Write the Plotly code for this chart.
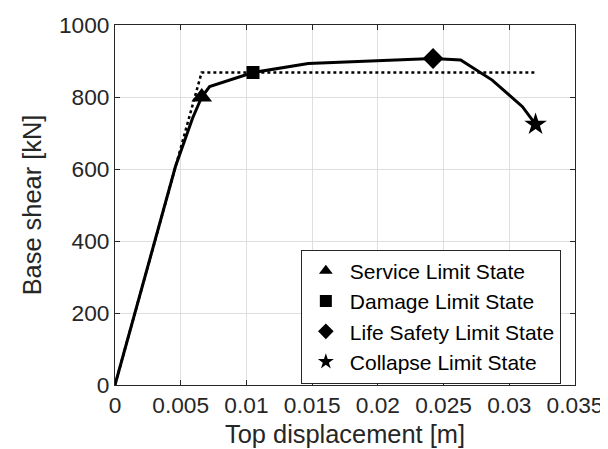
import plotly.graph_objects as go

# Pushover curve
disp = [0.0, 0.0046, 0.0059, 0.0066, 0.0072, 0.0105, 0.0147, 0.0185, 0.0242, 0.0263, 0.0287, 0.0310, 0.0320]
shear = [0, 607, 741, 800, 829, 868, 893, 898, 907, 903, 847, 773, 724]

# Bilinear idealisation
bi_disp = [0.0, 0.00659, 0.0320]
bi_shear = [0, 868, 868]

# Limit states
ls_names = ["Service Limit State", "Damage Limit State", "Life Safety Limit State", "Collapse Limit State"]
ls_disp = [0.0066, 0.0105, 0.0242, 0.0320]
ls_shear = [800, 868, 907, 724]
ls_symbols = ["triangle-up", "square", "diamond", "star"]
ls_sizes = [18, 13, 16, 17]

x_ticks = [0, 0.005, 0.01, 0.015, 0.02, 0.025, 0.03, 0.035]
x_ticktext = ["0", "0.005", "0.01", "0.015", "0.02", "0.025", "0.03", "0.035"]
y_ticks = [0, 200, 400, 600, 800, 1000]
y_ticktext = ["0", "200", "400", "600", "800", "1000"]

FONT = "Liberation Sans, Arial, sans-serif"
TXT = "#262626"

fig = go.Figure()
fig.add_trace(go.Scatter(x=bi_disp, y=bi_shear, mode="lines",
                         line=dict(color="black", width=2.5, dash="dot"),
                         showlegend=False, hoverinfo="skip"))
fig.add_trace(go.Scatter(x=disp, y=shear, mode="lines",
                         line=dict(color="black", width=3),
                         showlegend=False, hoverinfo="skip"))
for n, xv, yv, s, sz in zip(ls_names, ls_disp, ls_shear, ls_symbols, ls_sizes):
    fig.add_trace(go.Scatter(x=[xv], y=[yv], mode="markers", name=n,
                             marker=dict(symbol=s, size=sz, color="black",
                                         line=dict(width=0))))

fig.update_layout(
    width=608, height=449,
    margin=dict(l=107, r=41, t=17, b=72, autoexpand=False),
    paper_bgcolor="white", plot_bgcolor="white",
    font=dict(family=FONT, color=TXT, size=22.7),
    showlegend=True,
    legend=dict(x=0.404, y=0.19, xanchor="left", yanchor="middle",
                bgcolor="white", bordercolor=TXT, borderwidth=1,
                font=dict(family=FONT, size=21, color="black"),
                itemsizing="constant", itemwidth=38, tracegroupgap=0),
)
fig.update_xaxes(range=[0, 0.035], tickvals=x_ticks, ticktext=x_ticktext,
                 showgrid=True, gridcolor="#dfdfdf", gridwidth=1,
                 showline=True, linecolor=TXT, linewidth=1, mirror="ticks",
                 ticks="inside", ticklen=5, tickcolor=TXT, zeroline=False,
                 tickfont=dict(size=22.7, color=TXT),
                 title=dict(text="Top displacement [m]", font=dict(size=25.4, color=TXT), standoff=7))
fig.update_yaxes(range=[0, 1000], tickvals=y_ticks, ticktext=y_ticktext,
                 showgrid=True, gridcolor="#dfdfdf", gridwidth=1,
                 showline=True, linecolor=TXT, linewidth=1, mirror="ticks",
                 ticks="inside", ticklen=5, tickcolor=TXT, zeroline=False,
                 tickfont=dict(size=22.7, color=TXT),
                 title=dict(text="Base shear [kN]", font=dict(size=25.4, color=TXT), standoff=10))

fig.write_html("out.html")
